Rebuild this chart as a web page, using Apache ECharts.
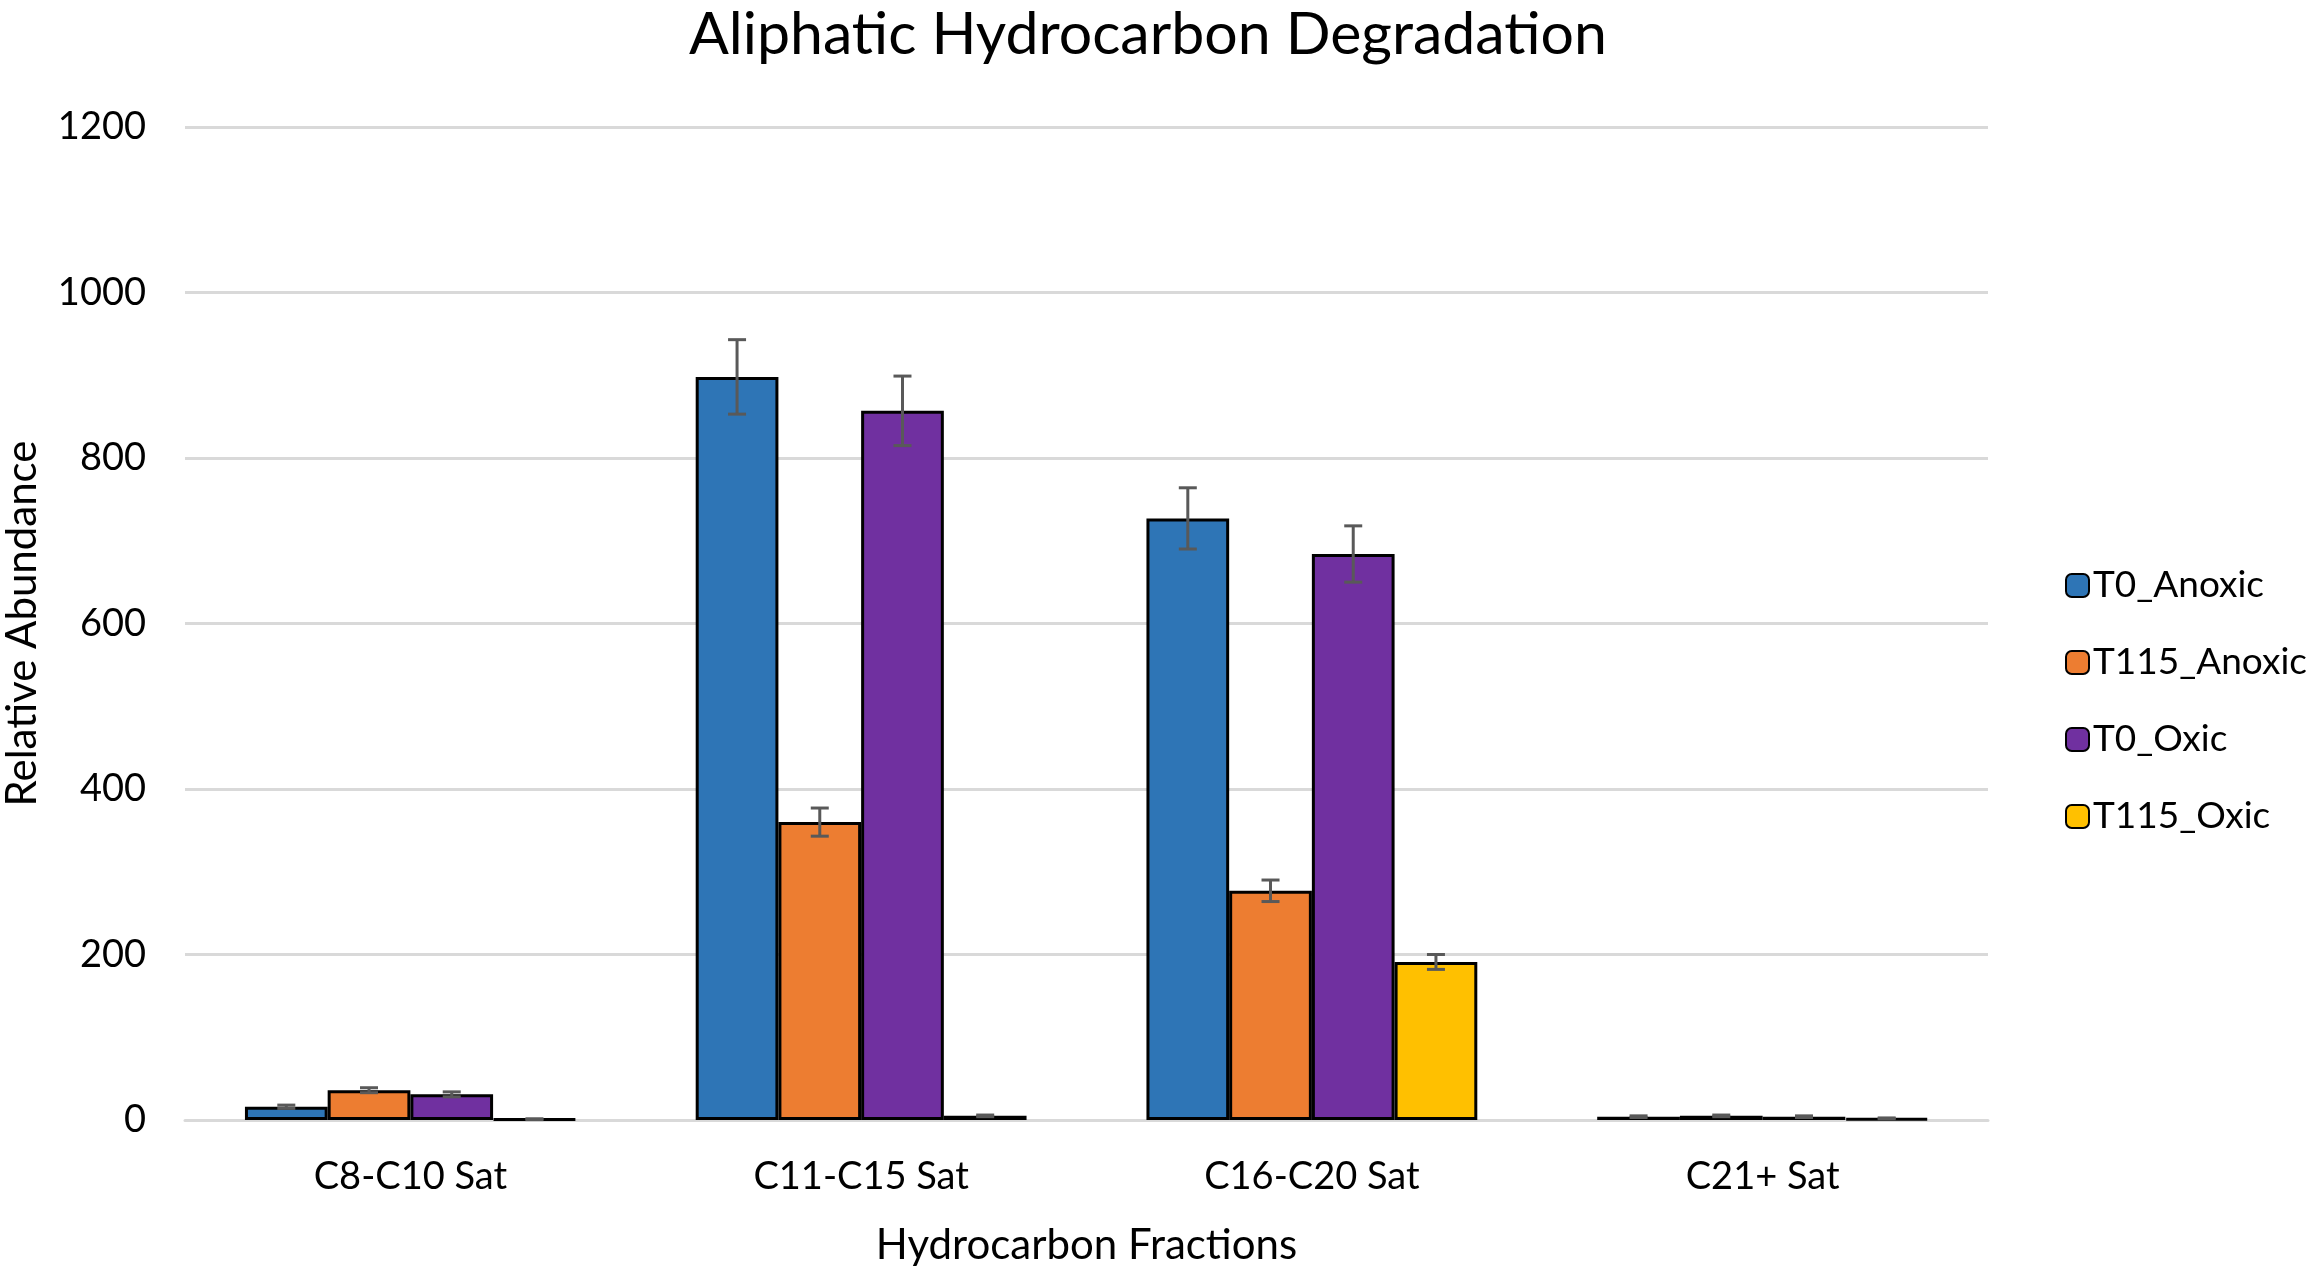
<!DOCTYPE html>
<html>
<head>
<meta charset="utf-8">
<script src="https://cdn.jsdelivr.net/npm/echarts@6/dist/echarts.min.js"></script>
<style>
  html, body { margin: 0; padding: 0; background: #fff; }
  #chart { width: 2318px; height: 1270px; }
</style>
</head>
<body>
<div id="chart"></div>
<script>
const categories = ['C8-C10 Sat', 'C11-C15 Sat', 'C16-C20 Sat', 'C21+ Sat']
const seriesNames = ['T0_Anoxic', 'T115_Anoxic', 'T0_Oxic', 'T115_Oxic']
const colors = ['#2E75B6', '#ED7D31', '#7030A0', '#FFC000']

const t0Anoxic = [16, 898, 727, 4]
const t115Anoxic = [36, 360, 277, 5]
const t0Oxic = [31, 857, 684, 4]
const t115Oxic = [1, 5, 191, 2]

const t0AnoxicErr = [2, 45, 37, 1]
const t115AnoxicErr = [3, 17, 13, 1]
const t0OxicErr = [3, 42, 34, 1]
const t115OxicErr = [0.5, 1, 9, 0.5]

const yTicks = { min: 0, max: 1200, interval: 200 }

const values = [t0Anoxic, t115Anoxic, t0Oxic, t115Oxic]
const errors = [t0AnoxicErr, t115AnoxicErr, t0OxicErr, t115OxicErr]

const FONT = 'Lato'
const categoryGap = 0.266

const chart = echarts.init(document.getElementById('chart'))

// error bars drawn with a custom series, placed over the matching bar
const errorSeries = (idx) => ({
    type: 'custom',
    name: seriesNames[idx] + '_err',
    z: 10,
    silent: true,
    data: values[idx].map((v, i) => [i, v - errors[idx][i], v + errors[idx][i]]),
    renderItem: (params, api) => {
        const band = api.size([1, 0])[0]
        const barW = band * (1 - categoryGap) / 4
        const offset = -band * (1 - categoryGap) / 2 + barW * (idx + 0.5)
        const lo = api.coord([api.value(0), api.value(1)])
        const hi = api.coord([api.value(0), api.value(2)])
        const x = lo[0] + offset
        const cap = 9
        const style = { stroke: '#595959', lineWidth: 3 }
        return {
            type: 'group',
            children: [
                { type: 'line', shape: { x1: x, y1: lo[1], x2: x, y2: hi[1] }, style },
                { type: 'line', shape: { x1: x - cap, y1: lo[1], x2: x + cap, y2: lo[1] }, style },
                { type: 'line', shape: { x1: x - cap, y1: hi[1], x2: x + cap, y2: hi[1] }, style }
            ]
        }
    }
})

const option = {
    animation: false,
    textStyle: { fontFamily: FONT },
    title: {
        text: 'Aliphatic Hydrocarbon Degradation',
        left: 1143,
        textAlign: 'center',
        top: 0,
        textStyle: { fontFamily: FONT, fontSize: 59, fontWeight: 'normal', color: '#000' }
    },
    legend: {
        orient: 'vertical',
        left: 2060,
        top: 562,
        itemWidth: 23,
        itemHeight: 23,
        itemGap: 40,
        data: seriesNames,
        textStyle: { fontFamily: FONT, fontSize: 37, color: '#000', padding: [0, 0, 0, -1] },
        itemStyle: { borderColor: '#000', borderWidth: 2 }
    },
    grid: { left: 185, right: 330, top: 127, bottom: 150, outerBoundsMode: 'none' },
    xAxis: {
        type: 'category',
        data: categories,
        name: 'Hydrocarbon Fractions',
        nameLocation: 'middle',
        nameGap: 104,
        nameTextStyle: { fontFamily: FONT, fontSize: 42, color: '#000' },
        axisLine: { lineStyle: { color: '#d9d9d9', width: 3 } },
        axisTick: { show: false },
        axisLabel: { fontFamily: FONT, fontSize: 38, color: '#000', margin: 38 }
    },
    yAxis: {
        type: 'value',
        min: yTicks.min,
        max: yTicks.max,
        interval: yTicks.interval,
        name: 'Relative Abundance',
        nameLocation: 'middle',
        nameGap: 142,
        nameTextStyle: { fontFamily: FONT, fontSize: 42, color: '#000' },
        axisLine: { show: false },
        axisTick: { show: false },
        splitLine: { lineStyle: { color: '#d9d9d9', width: 3 } },
        axisLabel: { fontFamily: FONT, fontSize: 38, color: '#000', margin: 39, formatter: (v) => String(v) }
    },
    series: [
        ...seriesNames.map((name, idx) => ({
            name,
            type: 'bar',
            data: values[idx],
            barGap: '0%',
            barCategoryGap: (categoryGap * 100) + '%',
            itemStyle: { color: colors[idx], borderColor: '#000', borderWidth: 3 }
        })),
        ...seriesNames.map((_, idx) => errorSeries(idx))
    ]
}

chart.setOption(option)
</script>
</body>
</html>
